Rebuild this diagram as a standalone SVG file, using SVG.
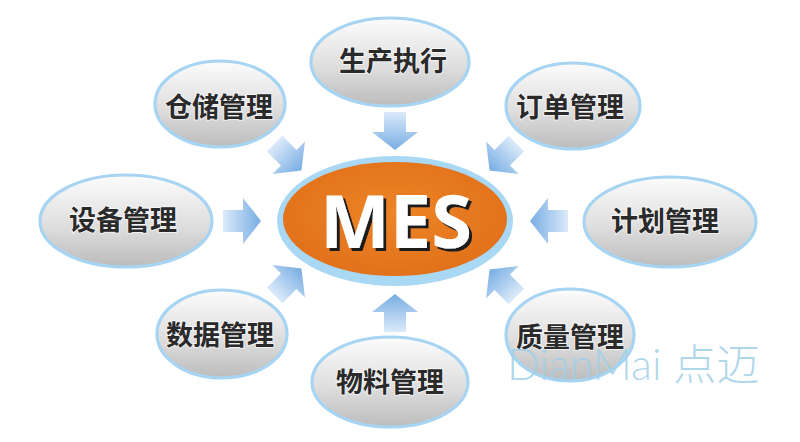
<svg xmlns="http://www.w3.org/2000/svg" width="800" height="442" viewBox="0 0 800 442">
<defs>
<linearGradient id="gray" x1="0" y1="0" x2="0" y2="1">
<stop offset="0" stop-color="#fcfcfc"/>
<stop offset="0.55" stop-color="#dedede"/>
<stop offset="1" stop-color="#bcbcbc"/>
</linearGradient>
<radialGradient id="orange" cx="0.5" cy="0.45" r="0.6">
<stop offset="0" stop-color="#ee8426"/>
<stop offset="1" stop-color="#e0701a"/>
</radialGradient>
<linearGradient id="arr" x1="0" y1="0" x2="1" y2="0">
<stop offset="0" stop-color="#dbeafa"/>
<stop offset="1" stop-color="#78ade2"/>
</linearGradient>
<filter id="shadow" x="-10%" y="-10%" width="130%" height="130%">
<feDropShadow dx="3" dy="3" stdDeviation="0.6" flood-color="#1a1a1a" flood-opacity="1"/>
</filter>
<path id="arrow" d="M-19,-11 L1,-11 L1,-23 L19,0 L1,23 L1,11 L-19,11 Z"/>
</defs>
<style>
.sat{fill:url(#gray);stroke:#a6d4f2;stroke-width:3.2}
.lbl{font-family:"Noto Sans CJK SC","Noto Sans CJK JP",sans-serif;font-weight:700;font-size:27px;fill:#2a2a2a;text-anchor:middle;stroke:#ffffff;stroke-width:2;stroke-opacity:0.6;paint-order:stroke}
.arw{fill:url(#arr)}
</style>
<rect width="800" height="442" fill="#ffffff"/>
<g id="connectors">
<use href="#arrow" class="arw" transform="translate(395,131) rotate(90)"/>
<use href="#arrow" class="arw" transform="translate(395,313) rotate(-90)"/>
<use href="#arrow" class="arw" transform="translate(242,221)"/>
<use href="#arrow" class="arw" transform="translate(549,221) rotate(180)"/>
<use href="#arrow" class="arw" transform="translate(288,157) rotate(45)"/>
<use href="#arrow" class="arw" transform="translate(503,157) rotate(135)"/>
<use href="#arrow" class="arw" transform="translate(288,282) rotate(-45)"/>
<use href="#arrow" class="arw" transform="translate(503,283) rotate(-135)"/>
</g>
<g id="mes">
<ellipse cx="395" cy="221" rx="118" ry="65" fill="#a9d8f5"/>
<ellipse cx="395" cy="219" rx="112" ry="57" fill="url(#orange)"/>
<text x="396" y="248" font-family="'Open Sans','Noto Sans',sans-serif" font-weight="700" font-size="74" fill="#ffffff" text-anchor="middle" filter="url(#shadow)">MES</text>
</g>
<g id="n-shengchan">
<ellipse class="sat" cx="390" cy="62" rx="79" ry="44"/>
<text class="lbl" x="393" y="71">生产执行</text>
</g>
<g id="n-cangchu">
<ellipse class="sat" cx="220" cy="104" rx="65" ry="43"/>
<text class="lbl" x="219" y="117">仓储管理</text>
</g>
<g id="n-dingdan">
<ellipse class="sat" cx="573" cy="106" rx="67" ry="43"/>
<text class="lbl" x="570" y="117">订单管理</text>
</g>
<g id="n-shebei">
<ellipse class="sat" cx="126" cy="221" rx="86" ry="46"/>
<text class="lbl" x="123" y="230">设备管理</text>
</g>
<g id="n-jihua">
<ellipse class="sat" cx="670" cy="222" rx="86" ry="45"/>
<text class="lbl" x="665" y="231">计划管理</text>
</g>
<g id="n-shuju">
<ellipse class="sat" cx="222" cy="334" rx="65" ry="44"/>
<text class="lbl" x="220" y="345">数据管理</text>
</g>
<g id="n-zhiliang">
<ellipse class="sat" cx="570" cy="335" rx="64" ry="46"/>
<text class="lbl" x="570" y="347">质量管理</text>
</g>
<g id="n-wuliao">
<ellipse class="sat" cx="390" cy="382" rx="78" ry="45"/>
<text class="lbl" x="390" y="392">物料管理</text>
</g>
<text x="507" y="380" font-family="Lato,'Noto Sans','Noto Sans CJK SC',sans-serif" font-weight="300" font-size="43" fill="#9fd0e8" fill-opacity="0.85">DianMai 点迈</text>
</svg>
